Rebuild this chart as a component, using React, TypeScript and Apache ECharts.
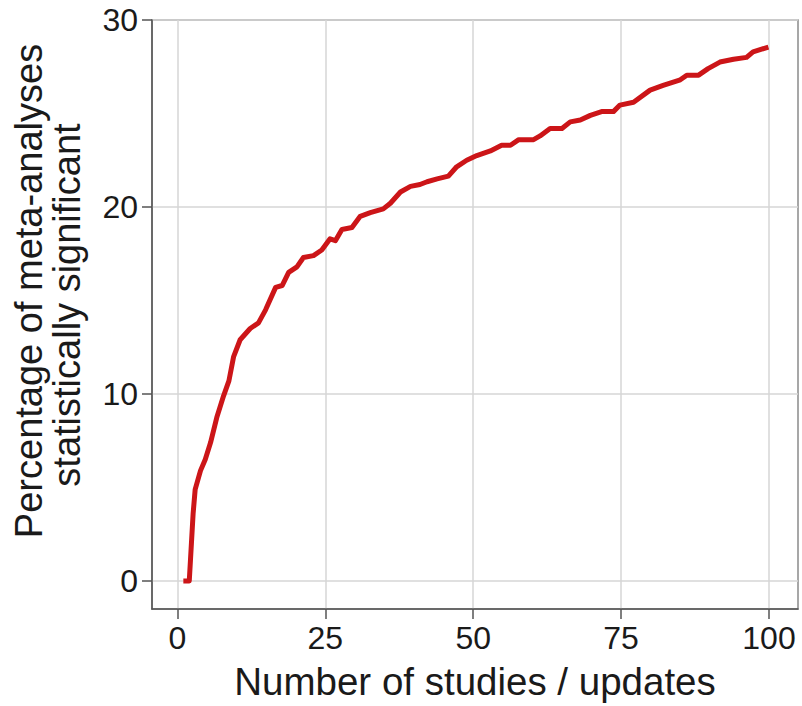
import React, { useEffect, useRef } from "react";
import * as echarts from "echarts";

const studies: number[] = [1, 2, 2.2, 2.65, 3.0, 3.9, 4.7, 5.6, 6.7, 7.8, 8.7, 9.5, 10.6, 12.3, 13.7, 14.9, 16.6, 17.7, 18.8, 20.2, 21.3, 23.0, 24.4, 25.8, 26.7, 27.8, 29.5, 30.9, 32.6, 34.8, 36.0, 37.7, 39.4, 41.0, 42.2, 43.9, 45.8, 47.2, 48.9, 50.6, 52.9, 54.8, 56.3, 57.7, 60.2, 61.3, 63.0, 65.0, 66.4, 68.1, 69.8, 71.7, 73.7, 74.8, 77.1, 79.9, 82.1, 85.0, 86.1, 88.1, 89.7, 91.7, 94.0, 96.2, 97.3, 99.9];
const pctSignificant: number[] = [0, 0, 1.1, 3.6, 4.9, 5.9, 6.5, 7.4, 8.8, 9.9, 10.7, 12.0, 12.9, 13.5, 13.8, 14.5, 15.7, 15.8, 16.5, 16.8, 17.3, 17.4, 17.7, 18.3, 18.2, 18.8, 18.9, 19.5, 19.7, 19.9, 20.2, 20.8, 21.1, 21.2, 21.35, 21.5, 21.65, 22.15, 22.5, 22.75, 23.0, 23.3, 23.3, 23.6, 23.6, 23.8, 24.2, 24.2, 24.55, 24.65, 24.9, 25.1, 25.1, 25.45, 25.6, 26.25, 26.5, 26.8, 27.05, 27.05, 27.4, 27.75, 27.9, 28.0, 28.3, 28.55];
const xTicks: number[] = [0, 25, 50, 75, 100];
const yTicks: number[] = [0, 10, 20, 30];
const xTitle = "Number of studies / updates";
const yTitleLines: string[] = ["Percentage of meta-analyses", "statistically significant"];

const FONT = '"Liberation Sans", Arial, sans-serif';

export default function App() {
  const ref = useRef<HTMLDivElement>(null);
  useEffect(() => {
    if (!ref.current) return;
    const chart = echarts.init(ref.current, null, { renderer: "svg" });
    const data = studies.map((x, i) => [x, pctSignificant[i]]);
    chart.setOption({
      animation: false,
      backgroundColor: "#ffffff",
      grid: {
        left: 152,
        top: 20,
        right: 4,
        bottom: 97,
        show: true,
        borderColor: "#8a8a8a",
        borderWidth: 1.5,
        backgroundColor: "transparent",
      },
      xAxis: {
        type: "value",
        min: -4.3,
        max: 104.9,
        name: xTitle,
        nameLocation: "middle",
        nameGap: 53,
        nameTextStyle: { fontFamily: FONT, fontSize: 38.5, color: "#1a1a1a" },
        axisLine: { show: true, onZero: false, lineStyle: { color: "#555555", width: 1.5 } },
        axisTick: { show: true, length: 10, lineStyle: { color: "#555555", width: 1.5 }, customValues: xTicks },
        axisLabel: { fontFamily: FONT, fontSize: 32, color: "#1a1a1a", margin: 13, customValues: xTicks },
        splitLine: { show: true, lineStyle: { color: "#d6d6d6", width: 1.5 } },
      },
      yAxis: {
        type: "value",
        min: -1.5,
        max: 30,
        axisLine: { show: true, onZero: false, lineStyle: { color: "#555555", width: 1.5 } },
        axisTick: { show: true, length: 10, lineStyle: { color: "#555555", width: 1.5 }, customValues: yTicks },
        axisLabel: { fontFamily: FONT, fontSize: 32, color: "#1a1a1a", margin: 14, customValues: yTicks },
        splitLine: { show: true, lineStyle: { color: "#d6d6d6", width: 1.5 } },
      },
      graphic: [
        {
          type: "text",
          x: 29,
          y: 291,
          rotation: Math.PI / 2,
          style: { text: yTitleLines[0], font: `38px ${FONT}`, fill: "#1a1a1a", align: "center", verticalAlign: "middle" },
        },
        {
          type: "text",
          x: 67,
          y: 305,
          rotation: Math.PI / 2,
          style: { text: yTitleLines[1], font: `38px ${FONT}`, fill: "#1a1a1a", align: "center", verticalAlign: "middle" },
        },
      ],
      series: [
        {
          type: "line",
          data,
          showSymbol: false,
          lineStyle: { color: "#cc1518", width: 5, join: "round", cap: "butt" },
          itemStyle: { color: "#cc1518" },
        },
      ],
    });
    return () => chart.dispose();
  }, []);
  return <div ref={ref} style={{ position: "fixed", left: 0, top: 0, width: 802, height: 706 }} />;
}
